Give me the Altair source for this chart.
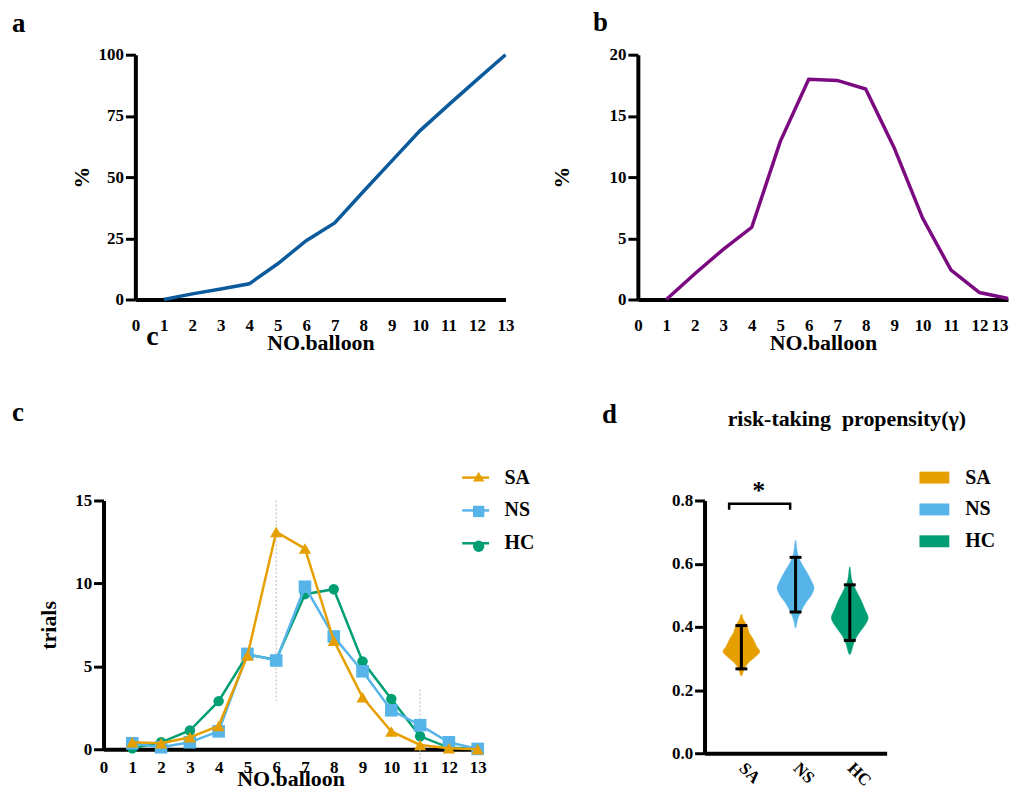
import altair as alt
import pandas as pd

FONT = "Liberation Serif"

# ---------------- data ----------------
balloon = list(range(1, 14))
x_tick_values = list(range(0, 14))

cum_pct = [0.0, 2.3, 4.3, 6.4, 14.6, 24.0, 31.3, 44.0, 56.5, 69.0, 79.5, 89.8, 100.0]
dist_pct = [0.0, 2.1, 4.1, 5.9, 12.9, 18.0, 17.9, 17.2, 12.4, 6.65, 2.4, 0.57, 0.08]

groups = ["SA", "NS", "HC"]
marker_keys = ["mSA", "mNS", "mHC"]
group_colors = ["#E69F00", "#56B4E9", "#009E73"]
group_shapes = ["triangle-up", "square", "circle"]
group_pos = [1, 2, 3]

trials_SA = [0.42, 0.36, 0.72, 1.40, 5.65, 13.1, 12.1, 6.55, 3.13, 1.07, 0.26, 0.06, 0.0]
trials_NS = [0.36, 0.12, 0.42, 1.08, 5.75, 5.35, 9.8, 6.8, 4.7, 2.35, 1.45, 0.42, 0.02]
trials_HC = [0.06, 0.42, 1.13, 2.90, 5.70, 5.40, 9.35, 9.65, 5.3, 3.03, 0.78, 0.10, 0.0]

guide_x = [6, 11]
guide_top = [15.0, 3.6]
guide_bottom = [2.9, -0.8]

# violin outlines: gamma value and relative density (half width)
vio_SA_y = [0.244, 0.267, 0.286, 0.302, 0.321, 0.339, 0.360, 0.381, 0.404, 0.423, 0.440]
vio_SA_d = [0.0, 0.16, 0.38, 0.70, 1.0, 0.82, 0.65, 0.43, 0.30, 0.11, 0.0]
vio_NS_y = [0.396, 0.423, 0.447, 0.475, 0.501, 0.522, 0.538, 0.569, 0.601, 0.632, 0.674]
vio_NS_d = [0.0, 0.11, 0.27, 0.54, 0.86, 1.0, 0.92, 0.65, 0.32, 0.11, 0.0]
vio_HC_y = [0.312, 0.349, 0.375, 0.402, 0.428, 0.454, 0.485, 0.517, 0.548, 0.590]
vio_HC_d = [0.0, 0.22, 0.44, 0.78, 1.0, 0.83, 0.61, 0.33, 0.11, 0.0]

err_lo = [0.267, 0.447, 0.357]
err_hi = [0.404, 0.620, 0.533]

bracket_x = [0.774, 0.774, 1.90, 1.90]
bracket_y = [0.771, 0.790, 0.790, 0.771]
star_x = [1.32]
star_y = [0.83]

# ---------------- helpers ----------------
def text_layer(txt, x, y, size=27, align="left"):
    return alt.Chart(pd.DataFrame({"t": [txt]})).mark_text(
        align=align, baseline="alphabetic", font=FONT, fontSize=size,
        fontWeight="bold", color="black"
    ).encode(text="t:N", x=alt.value(x), y=alt.value(y))


def x_balloon(rng=None, title_x=None, lp=18, tp=-1, flush_last=False):
    sc = alt.Scale(domain=[0, 13], nice=False) if rng is None else \
        alt.Scale(domain=[0, 13], nice=False, range=rng)
    ax = dict(values=x_tick_values, ticks=False, title="NO.balloon",
              labelPadding=lp, titlePadding=tp)
    if title_x is not None:
        ax["titleX"] = title_x
    if flush_last:
        ax["labelAlign"] = {"condition": {"test": "datum.value == 13", "value": "right"},
                            "value": "center"}
    return alt.X("balloon:Q", scale=sc, axis=alt.Axis(**ax))

# ---------------- panel a (plot area offset 32px inside its view) ----------------
A_OFF = 32
df_a = pd.DataFrame({"balloon": balloon, "pct": cum_pct})
line_a = alt.Chart(df_a).mark_line(color="#0b5a9c", strokeWidth=3.5).encode(
    x=x_balloon(rng=[A_OFF, A_OFF + 372], title_x=A_OFF + 186),
    y=alt.Y("pct:Q", scale=alt.Scale(domain=[0, 100], nice=False),
            axis=alt.Axis(values=[0, 25, 50, 75, 100], title="%", titlePadding=5,
                          offset=-A_OFF)),
)
panel_a = alt.layer(line_a, text_layer("a", -92, -23),
                    text_layer("c", 11 + A_OFF, 292, size=28)).properties(
    width=372 + A_OFF, height=246)

# ---------------- panel b ----------------
df_b = pd.DataFrame({"balloon": balloon, "pct": dist_pct})
line_b = alt.Chart(df_b).mark_line(color="#7b0a80", strokeWidth=3.5).encode(
    x=x_balloon(flush_last=True),
    y=alt.Y("pct:Q", scale=alt.Scale(domain=[0, 20], nice=False),
            axis=alt.Axis(values=[0, 5, 10, 15, 20], title="%", titlePadding=36)),
)
panel_b = alt.layer(line_b, text_layer("b", -45, -24)).properties(width=372, height=246)

# ---------------- panel c ----------------
df_c = pd.DataFrame({
    "balloon": balloon * 3,
    "trials": trials_SA + trials_NS + trials_HC,
    "series": ["SA"] * 13 + ["NS"] * 13 + ["HC"] * 13,
})
df_c["marker"] = "m" + df_c["series"]

xc = x_balloon(lp=10, tp=-7)
yc = alt.Y("trials:Q", scale=alt.Scale(domain=[0, 15], nice=False),
           axis=alt.Axis(values=[0, 5, 10, 15], title="trials", titlePadding=14))

stroke_legend = alt.Legend(orient="none", legendX=359, legendY=-38, title=None,
                           symbolType="stroke", symbolSize=729, symbolStrokeWidth=2.5,
                           labelFont=FONT, labelFontSize=20, labelFontWeight="bold",
                           labelColor="black", labelOffset=14, rowPadding=8, padding=0)
marker_legend = alt.Legend(orient="none", legendX=367, legendY=-34, title=None,
                           symbolSize=130, symbolStrokeWidth=0, symbolOpacity=1,
                           labelFontSize=20, labelOpacity=0, labelOffset=16,
                           rowPadding=15, padding=0)

stroke_enc = alt.Stroke("series:N", scale=alt.Scale(domain=groups, range=group_colors),
                        legend=stroke_legend)
fill_enc = alt.Fill("marker:N", scale=alt.Scale(domain=marker_keys, range=group_colors),
                    legend=marker_legend)
shape_enc = alt.Shape("marker:N", scale=alt.Scale(domain=marker_keys, range=group_shapes),
                      legend=marker_legend)

df_guides = pd.DataFrame({"balloon": guide_x, "top": guide_top, "bottom": guide_bottom})
guides = alt.Chart(df_guides).mark_rule(color="#c4c4c4", strokeDash=[2, 2], strokeWidth=1.2).encode(
    x=xc, y=alt.Y("top:Q", scale=alt.Scale(domain=[0, 15], nice=False)), y2="bottom:Q")

c_layers = [guides]
sizes = {"SA": 150, "NS": 160, "HC": 110}
for g in ["HC", "NS", "SA"]:
    base = alt.Chart(df_c).transform_filter(alt.datum.series == g)
    c_layers.append(base.mark_line(strokeWidth=2.5).encode(x=xc, y=yc, stroke=stroke_enc))
    c_layers.append(base.mark_point(filled=True, opacity=1, size=sizes[g], strokeWidth=0).encode(
        x=xc, y=yc, fill=fill_enc, shape=shape_enc))
c_layers.append(text_layer("c", -92, -80))
panel_c = alt.layer(*c_layers).properties(width=376, height=250)

# ---------------- panel d ----------------
vio_rows = []
for g, p, ys, ds in [("SA", 1, vio_SA_y, vio_SA_d), ("NS", 2, vio_NS_y, vio_NS_d),
                     ("HC", 3, vio_HC_y, vio_HC_d)]:
    k = 0
    for y, d in zip(ys, ds):  # left side, bottom -> top
        vio_rows.append({"group": g, "pos": p, "gamma": y, "dens": -d, "k": k})
        k += 1
    for y, d in list(zip(ys, ds))[-2:0:-1]:  # right side, top -> bottom
        vio_rows.append({"group": g, "pos": p, "gamma": y, "dens": d, "k": k})
        k += 1
df_vio = pd.DataFrame(vio_rows)

xd_scale = alt.Scale(domain=[0.32, 3.68], nice=False, zero=False)
yd_scale = alt.Scale(domain=[0, 0.8], nice=False)
xd_axis = alt.Axis(values=group_pos, ticks=False, title=None,
                   labelExpr="datum.value == 1 ? 'SA' : datum.value == 2 ? 'NS' : 'HC'",
                   labelAngle=45, labelAlign="left", labelBaseline="middle",
                   labelFontSize=17, labelPadding=12)
yd_axis = alt.Axis(values=[0, 0.2, 0.4, 0.6, 0.8], format=".1f", title=None)

fill_legend = alt.Legend(orient="none", legendX=216, legendY=-38, title=None,
                         symbolType="M-1,-0.4H1V0.4H-1Z", symbolSize=900,
                         symbolStrokeWidth=0, symbolOpacity=1,
                         labelFont=FONT, labelFontSize=20, labelFontWeight="bold",
                         labelColor="black", labelOffset=16, rowPadding=7, padding=0)

violins = alt.Chart(df_vio).transform_calculate(
    vx="datum.pos + datum.dens * 0.34"
).mark_line(interpolate="cardinal-closed", strokeWidth=0.5, fillOpacity=1).encode(
    x=alt.X("vx:Q", scale=xd_scale, axis=xd_axis),
    y=alt.Y("gamma:Q", scale=yd_scale, axis=yd_axis),
    fill=alt.Fill("group:N", scale=alt.Scale(domain=groups, range=group_colors),
                  legend=fill_legend),
    stroke=alt.Stroke("group:N", scale=alt.Scale(domain=groups, range=group_colors),
                      legend=None),
    order=alt.Order("k:Q"),
)

df_err = pd.DataFrame({"pos": group_pos, "lo": err_lo, "hi": err_hi})
err_bars = alt.Chart(df_err).mark_rule(color="black", strokeWidth=3).encode(
    x=alt.X("pos:Q", scale=xd_scale), y=alt.Y("lo:Q", scale=yd_scale), y2="hi:Q")
df_caps = pd.DataFrame({"pos": group_pos * 2, "val": err_lo + err_hi})
caps = alt.Chart(df_caps).transform_calculate(
    c1="datum.pos - 0.11", c2="datum.pos + 0.11"
).mark_rule(color="black", strokeWidth=3).encode(
    x=alt.X("c1:Q", scale=xd_scale), x2="c2:Q", y=alt.Y("val:Q", scale=yd_scale))

df_br = pd.DataFrame({"bx": bracket_x, "by": bracket_y, "k": [0, 1, 2, 3]})
bracket = alt.Chart(df_br).mark_line(color="black", strokeWidth=2.5).encode(
    x=alt.X("bx:Q", scale=xd_scale), y=alt.Y("by:Q", scale=yd_scale), order="k:Q")
df_star = pd.DataFrame({"sx": star_x, "sy": star_y, "t": ["*"]})
star = alt.Chart(df_star).mark_text(font=FONT, fontSize=26, fontWeight="bold", color="black",
                                    baseline="middle").encode(
    x=alt.X("sx:Q", scale=xd_scale), y=alt.Y("sy:Q", scale=yd_scale), text="t:N")

panel_d = alt.layer(
    violins, err_bars, caps, bracket, star,
    text_layer("d", -103, -78),
    text_layer("risk-taking\u00a0 propensity(\u03b3)", 143, -75, size=22, align="center"),
).properties(width=183, height=254)

# ---------------- layout ----------------
indep = dict(color="independent", fill="independent", stroke="independent",
             shape="independent")
row1 = alt.hconcat(panel_a, panel_b, spacing=36).resolve_scale(**indep).resolve_legend(**indep)
row2 = alt.hconcat(panel_c, panel_d, spacing=52).resolve_scale(**indep).resolve_legend(**indep)

chart = alt.vconcat(row1, row2, spacing=46).resolve_scale(
    **indep).resolve_legend(**indep).properties(
    padding={"left": 4, "top": -1, "right": -3, "bottom": -5}
).configure_axis(
    domainColor="black", domainWidth=4, tickColor="black", tickWidth=3, tickSize=10,
    labelFont=FONT, labelFontSize=17, labelFontWeight="bold", labelColor="black",
    labelPadding=2, labelFlush=False, labelOverlap=False,
    titleFont=FONT, titleFontSize=22, titleFontWeight="bold", titleColor="black",
    grid=False,
).configure_view(stroke=None)

chart.save("out.html", embed_options={"renderer": "svg", "actions": False})
